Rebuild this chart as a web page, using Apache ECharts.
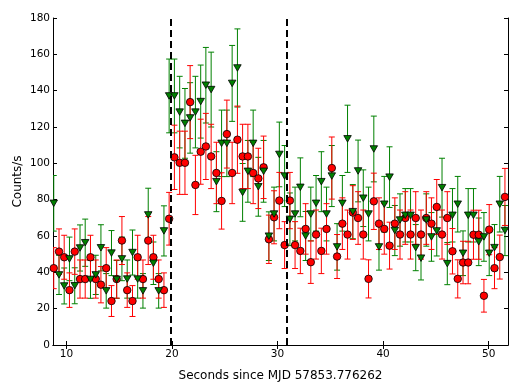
<!DOCTYPE html>
<html>
<head>
<meta charset="utf-8">
<script src="https://cdn.jsdelivr.net/npm/echarts@6/dist/echarts.min.js"></script>
<style>
  html, body { margin: 0; padding: 0; background: #fff; }
  #chart { width: 521px; height: 391px; }
</style>
</head>
<body>
<div id="chart"></div>
<script>
  // bin times, seconds since MJD 57853.776262
  const times = [8.80, 9.30, 9.79, 10.29, 10.79, 11.29, 11.78, 12.28, 12.78, 13.27,
    13.77, 14.27, 14.76, 15.26, 15.76, 16.26, 16.75, 17.25, 17.75, 18.24,
    18.74, 19.24, 19.73, 20.23, 20.73, 21.23, 21.72, 22.22, 22.72, 23.21,
    23.71, 24.21, 24.70, 25.20, 25.70, 26.20, 26.69, 27.19, 27.69, 28.18,
    28.68, 29.18, 29.67, 30.17, 30.67, 31.17, 31.66, 32.16, 32.66, 33.15,
    33.65, 34.15, 34.64, 35.14, 35.64, 36.14, 36.63, 37.13, 37.63, 38.12,
    38.62, 39.12, 39.61, 40.11, 40.61, 41.11, 41.60, 42.10, 42.60, 43.09,
    43.59, 44.09, 44.58, 45.08, 45.58, 46.08, 46.57, 47.07, 47.57, 48.06,
    48.56, 49.06, 49.55, 50.05, 50.55, 51.05, 51.54];

  // red circles
  const redRate = [42.3, 51.4, 48.3, 30.2, 51.4, 36.3, 36.3, 48.3, 36.3, 33.2,
    42.3, 24.2, 36.3, 57.5, 30.2, 24.2, 48.3, 36.3, 57.5, 48.3,
    36.3, 30.2, 69.5, 103.3, 100.3, 100.3, 133.7, 88.1, 106.4, 109.3,
    103.8, 94.7, 79.3, 116.1, 94.7, 113.0, 103.8, 103.8, 94.7, 91.7,
    97.8, 58.2, 70.3, 79.5, 55.0, 79.5, 55.0, 51.8, 63.9, 45.6,
    60.8, 51.8, 63.9, 97.4, 48.7, 66.8, 60.8, 72.9, 69.9, 60.8,
    36.4, 79.1, 66.8, 63.9, 54.7, 66.8, 60.8, 69.9, 60.8, 69.9,
    60.8, 69.9, 66.8, 76.0, 60.8, 69.9, 51.6, 36.4, 45.4, 45.4,
    60.7, 60.7, 27.1, 63.5, 42.3, 48.4, 81.5];
  const redErr = [11.3, 12.5, 12.1, 9.5, 12.5, 10.5, 10.5, 12.1, 10.5, 10.0,
    11.3, 8.5, 10.5, 13.2, 9.5, 8.5, 12.1, 10.5, 13.2, 12.1,
    10.5, 9.5, 14.5, 17.7, 17.4, 17.4, 20.1, 16.3, 17.9, 18.2,
    17.7, 16.9, 15.5, 18.7, 16.9, 18.5, 17.7, 17.7, 16.9, 16.6,
    17.2, 13.3, 14.6, 15.5, 12.9, 15.5, 12.9, 12.5, 13.9, 11.7,
    13.5, 12.5, 13.9, 17.1, 12.1, 14.2, 13.5, 14.8, 14.5, 13.5,
    10.5, 15.5, 14.2, 13.9, 12.9, 14.2, 13.5, 14.5, 13.5, 14.5,
    13.5, 14.5, 14.2, 15.1, 13.5, 14.5, 12.5, 10.5, 11.7, 11.7,
    13.5, 13.5, 9.0, 13.8, 11.3, 12.1, 15.7];

  // green triangles
  const greenRate = [78.0, 38.6, 32.5, 47.4, 32.6, 53.4, 56.3, 36.1, 38.6, 53.5,
    29.8, 50.6, 36.1, 47.4, 36.3, 50.9, 36.3, 29.8, 71.6, 45.0,
    29.8, 62.8, 137.1, 137.1, 128.2, 122.0, 125.0, 128.2, 134.0, 143.0,
    140.6, 89.9, 111.0, 111.0, 144.0, 152.5, 84.0, 95.6, 111.0, 87.1,
    95.6, 59.9, 72.1, 104.9, 93.0, 69.2, 72.1, 86.8, 60.0, 72.1,
    78.0, 89.9, 72.1, 93.0, 54.0, 78.0, 113.5, 73.4, 95.8, 80.8,
    72.1, 107.9, 54.0, 77.5, 92.4, 63.0, 68.8, 71.4, 71.4, 53.6,
    47.8, 68.8, 59.5, 62.8, 86.6, 44.8, 71.4, 77.5, 50.5, 71.4,
    71.4, 56.8, 59.5, 50.5, 53.6, 77.5, 63.0];
  const greenErr = [15.3, 10.8, 9.9, 12.0, 9.9, 12.7, 13.0, 10.4, 10.8, 12.7,
    9.5, 12.4, 10.4, 12.0, 10.5, 12.4, 10.5, 9.5, 14.7, 11.7,
    9.5, 13.8, 20.3, 20.3, 19.7, 19.2, 19.4, 19.7, 20.1, 20.8,
    20.6, 16.5, 18.3, 18.3, 20.9, 21.5, 15.9, 17.0, 18.3, 16.2,
    17.0, 13.4, 14.8, 17.8, 16.8, 14.5, 14.8, 16.2, 13.5, 14.8,
    15.3, 16.5, 14.8, 16.8, 12.8, 15.3, 18.5, 14.9, 17.0, 15.6,
    14.8, 18.1, 12.8, 15.3, 16.7, 13.8, 14.4, 14.7, 14.7, 12.7,
    12.0, 14.4, 13.4, 13.8, 16.2, 11.6, 14.7, 15.3, 12.3, 14.7,
    14.7, 13.1, 13.4, 12.3, 12.7, 15.3, 13.8];

  // dashed markers
  const markerTimes = [19.88, 30.83];
  const xTicks = [10, 20, 30, 40, 50];

  const FONT = 'DejaVu Sans';
  const chart = echarts.init(document.getElementById('chart'), null, {renderer: 'canvas'});

  function errData(rate, err) {
    return times.map((t, i) => [t, rate[i] - err[i], rate[i] + err[i]]);
  }

  function errRenderer(color) {
    return function (params, api) {
      const x = api.value(0);
      const top = api.coord([x, api.value(2)]);
      const bot = api.coord([x, api.value(1)]);
      const cw = 3;
      const style = {stroke: color, lineWidth: 1, fill: null};
      return {
        type: 'group',
        children: [
          {type: 'line', shape: {x1: top[0], y1: top[1], x2: bot[0], y2: bot[1]}, style: style},
          {type: 'line', shape: {x1: top[0] - cw, y1: top[1], x2: top[0] + cw, y2: top[1]}, style: style},
          {type: 'line', shape: {x1: bot[0] - cw, y1: bot[1], x2: bot[0] + cw, y2: bot[1]}, style: style},
        ],
      };
    };
  }

  const axisLine = {show: true, lineStyle: {color: '#000', width: 1}};
  const tick = {show: true, inside: true, length: 4, lineStyle: {color: '#000', width: 1}};
  const label = {color: '#000', fontFamily: FONT, fontSize: 10.5};

  chart.setOption({
    animation: false,
    backgroundColor: '#fff',
    grid: {left: 53, right: 13, top: 18, bottom: 46, outerBoundsMode: 'none', containLabel: false},
    xAxis: [
      {
        type: 'value', min: 8.73, max: 51.83, position: 'bottom',
        axisLine: axisLine,
        axisTick: Object.assign({customValues: xTicks}, tick),
        axisLabel: Object.assign({customValues: xTicks, margin: 4}, label),
        splitLine: {show: false},
        name: 'Seconds since MJD 57853.776262', nameLocation: 'middle', nameGap: 25,
        nameMoveOverlap: false,
        nameTextStyle: {color: '#000', fontFamily: FONT, fontSize: 12},
      },
      {
        type: 'value', min: 8.73, max: 51.83, position: 'top',
        axisLine: axisLine,
        axisTick: Object.assign({customValues: xTicks}, tick),
        axisLabel: {show: false},
        splitLine: {show: false},
      },
    ],
    yAxis: [
      {
        type: 'value', min: 0, max: 180, interval: 20, position: 'left',
        axisLine: axisLine, axisTick: tick,
        axisLabel: Object.assign({margin: 3}, label),
        splitLine: {show: false},
        name: 'Counts/s', nameLocation: 'middle', nameGap: 29, nameRotate: 90,
        nameMoveOverlap: false,
        nameTextStyle: {color: '#000', fontFamily: FONT, fontSize: 12},
      },
      {
        type: 'value', min: 0, max: 180, interval: 20, position: 'right',
        axisLine: axisLine, axisTick: tick,
        axisLabel: {show: false},
        splitLine: {show: false},
      },
    ],
    series: [
      {
        name: 'green err', type: 'custom', clip: true, silent: true,
        renderItem: errRenderer('#008000'),
        encode: {x: 0, y: [1, 2]},
        data: errData(greenRate, greenErr),
        z: 2,
      },
      {
        name: 'red err', type: 'custom', clip: true, silent: true,
        renderItem: errRenderer('#ff0000'),
        encode: {x: 0, y: [1, 2]},
        data: errData(redRate, redErr),
        z: 2,
      },
      {
        name: 'red', type: 'scatter', clip: true, silent: true,
        symbol: 'circle', symbolSize: 7.5,
        itemStyle: {color: '#ff0000', borderColor: '#000', borderWidth: 0.8, opacity: 1},
        data: times.map((t, i) => [t, redRate[i]]),
        z: 3,
        markLine: {
          silent: true, symbol: 'none',
          label: {show: false},
          lineStyle: {color: '#000', width: 2, type: [7, 4], opacity: 1},
          data: markerTimes.map(t => ({xAxis: t})),
        },
      },
      {
        name: 'green', type: 'scatter', clip: true, silent: true,
        symbol: 'triangle', symbolRotate: 180, symbolSize: [7.5, 6.5],
        itemStyle: {color: '#008000', borderColor: '#000', borderWidth: 0.8, opacity: 1},
        data: times.map((t, i) => [t, greenRate[i]]),
        z: 4,
      },
    ],
  });
</script>
</body>
</html>
